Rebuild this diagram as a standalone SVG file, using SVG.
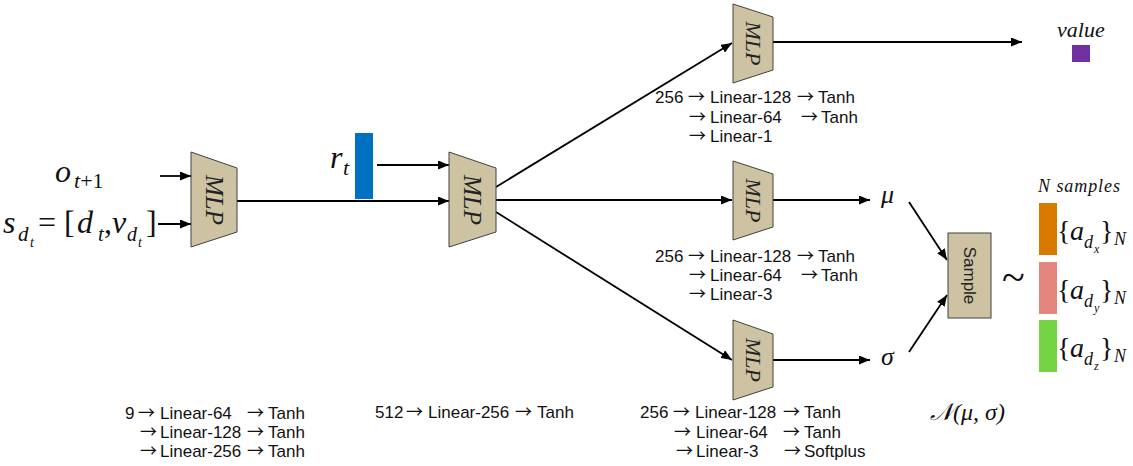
<svg xmlns="http://www.w3.org/2000/svg" width="1133" height="466" viewBox="0 0 1133 466">
<defs>
<marker id="ah" markerUnits="userSpaceOnUse" markerWidth="12" markerHeight="9" refX="11" refY="4.5" orient="auto">
<path d="M0,0 L11,4.5 L0,9 z" fill="#000"/>
</marker>
<style>
.mlp{fill:#CDC3A2;stroke:#404040;stroke-width:1}
.conn{stroke:#000;stroke-width:1.8;fill:none}
.lbl{font-family:"Liberation Sans",Arial,sans-serif;font-size:17px;fill:#111}
.ar{font-family:"Noto Sans CJK SC","DejaVu Sans",sans-serif;font-size:17px}
.m{font-family:"Liberation Serif","Times New Roman",serif;font-style:italic;fill:#111}
.u{font-family:"Liberation Serif","Times New Roman",serif;fill:#111}
.i{font-style:italic}
.n{font-style:normal}
.mt{font-family:"Liberation Serif","Times New Roman",serif;font-style:italic;fill:#222;text-anchor:middle;dominant-baseline:central}
</style>
</defs>
<rect width="1133" height="466" fill="#fff"/>

<g id="connectors">
<line class="conn" x1="160" y1="176" x2="191" y2="176" marker-end="url(#ah)"/>
<line class="conn" x1="158" y1="224" x2="191" y2="224" marker-end="url(#ah)"/>
<line class="conn" x1="237" y1="201" x2="449" y2="201" marker-end="url(#ah)"/>
<line class="conn" x1="377" y1="165" x2="449" y2="165" marker-end="url(#ah)"/>
<line class="conn" x1="496" y1="187" x2="732" y2="43" marker-end="url(#ah)"/>
<line class="conn" x1="496" y1="200" x2="732" y2="200" marker-end="url(#ah)"/>
<line class="conn" x1="496" y1="212" x2="732" y2="360" marker-end="url(#ah)"/>
<line class="conn" x1="773" y1="42" x2="1022" y2="42" marker-end="url(#ah)"/>
<line class="conn" x1="773" y1="200" x2="870" y2="200" marker-end="url(#ah)"/>
<line class="conn" x1="773" y1="360" x2="870" y2="360" marker-end="url(#ah)"/>
<line class="conn" x1="909" y1="202" x2="947" y2="260" marker-end="url(#ah)"/>
<line class="conn" x1="909" y1="352" x2="947" y2="295" marker-end="url(#ah)"/>
</g>

<g id="inputs">
<text class="m" font-size="32" y="182"><tspan x="55">o</tspan><tspan x="74" y="188" font-size="22">t</tspan><tspan class="n" y="188" font-size="22">+1</tspan></text>
<text class="m" font-size="32" y="233"><tspan x="3">s</tspan><tspan x="18" y="241" font-size="21">d</tspan><tspan x="30" y="247" font-size="14">t</tspan><tspan class="n" x="38" y="233">=</tspan><tspan class="n" x="64" y="233">[</tspan><tspan x="77" y="233">d</tspan><tspan x="98" y="241" font-size="21">t</tspan><tspan class="n" x="104" y="233">,</tspan><tspan x="112" y="233">v</tspan><tspan x="127" y="241" font-size="20">d</tspan><tspan x="138" y="247" font-size="14">t</tspan><tspan class="n" x="146" y="233">]</tspan></text>
</g>

<g id="mlp1">
<polygon class="mlp" points="191,152 237,168 237,232 191,247"/>
<text class="mt" font-size="25" transform="translate(214,200) rotate(90)">MLP</text>
</g>

<g id="reward">
<rect x="355" y="133" width="18" height="66" fill="#0070C0"/>
<text class="m" font-size="32" y="168"><tspan x="330">r</tspan><tspan x="343" y="175" font-size="22">t</tspan></text>
</g>

<g id="mlp2">
<polygon class="mlp" points="449,152 496,168 496,232 449,247"/>
<text class="mt" font-size="25" transform="translate(472,200) rotate(90)">MLP</text>
</g>

<g id="mlp-value">
<polygon class="mlp" points="733,4 773,17 773,70 733,83"/>
<text class="mt" font-size="22" transform="translate(753,43.5) rotate(90)">MLP</text>
</g>

<g id="mlp-mu">
<polygon class="mlp" points="733,161 773,174 773,227 733,240"/>
<text class="mt" font-size="22" transform="translate(753,200.5) rotate(90)">MLP</text>
</g>

<g id="mlp-sigma">
<polygon class="mlp" points="733,320 773,334 773,387 733,400"/>
<text class="mt" font-size="22" transform="translate(753,360) rotate(90)">MLP</text>
</g>

<g id="label-value-mlp" class="lbl">
<text y="103"><tspan x="655">256</tspan><tspan class="ar" x="688">→</tspan><tspan x="710">Linear-128</tspan><tspan class="ar" x="797">→</tspan><tspan x="818">Tanh</tspan></text>
<text y="123"><tspan class="ar" x="689">→</tspan><tspan x="710">Linear-64</tspan><tspan class="ar" x="801">→</tspan><tspan x="821">Tanh</tspan></text>
<text y="142"><tspan class="ar" x="689">→</tspan><tspan x="710">Linear-1</tspan></text>
</g>

<g id="label-mu-mlp" class="lbl">
<text y="262"><tspan x="655">256</tspan><tspan class="ar" x="688">→</tspan><tspan x="710">Linear-128</tspan><tspan class="ar" x="797">→</tspan><tspan x="818">Tanh</tspan></text>
<text y="281"><tspan class="ar" x="689">→</tspan><tspan x="710">Linear-64</tspan><tspan class="ar" x="801">→</tspan><tspan x="821">Tanh</tspan></text>
<text y="300"><tspan class="ar" x="689">→</tspan><tspan x="710">Linear-3</tspan></text>
</g>

<g id="label-sigma-mlp" class="lbl">
<text y="418"><tspan x="640">256</tspan><tspan class="ar" x="673">→</tspan><tspan x="695">Linear-128</tspan><tspan class="ar" x="783">→</tspan><tspan x="804">Tanh</tspan></text>
<text y="438"><tspan class="ar" x="674">→</tspan><tspan x="696">Linear-64</tspan><tspan class="ar" x="783">→</tspan><tspan x="804">Tanh</tspan></text>
<text y="457"><tspan class="ar" x="676">→</tspan><tspan x="696">Linear-3</tspan><tspan class="ar" x="784">→</tspan><tspan x="804">Softplus</tspan></text>
</g>

<g id="label-mlp1" class="lbl">
<text y="419"><tspan x="125">9</tspan><tspan class="ar" x="138">→</tspan><tspan x="160">Linear-64</tspan><tspan class="ar" x="247">→</tspan><tspan x="268">Tanh</tspan></text>
<text y="438"><tspan class="ar" x="140">→</tspan><tspan x="160">Linear-128</tspan><tspan class="ar" x="247">→</tspan><tspan x="268">Tanh</tspan></text>
<text y="457"><tspan class="ar" x="140">→</tspan><tspan x="160">Linear-256</tspan><tspan class="ar" x="247">→</tspan><tspan x="268">Tanh</tspan></text>
</g>

<g id="label-mlp2" class="lbl">
<text y="418"><tspan x="375">512</tspan><tspan class="ar" x="406">→</tspan><tspan x="428">Linear-256</tspan><tspan class="ar" x="515">→</tspan><tspan x="537">Tanh</tspan></text>
</g>

<g id="mu">
<text class="m" x="881" y="203" font-size="26">μ</text>
</g>
<g id="sigma">
<text class="m" x="881" y="365" font-size="26">σ</text>
</g>

<g id="sample">
<rect class="mlp" x="948" y="233" width="43" height="85"/>
<text transform="translate(969.5,275.5) rotate(90)" font-family="Liberation Sans,Arial,sans-serif" font-size="17" fill="#222" text-anchor="middle" dominant-baseline="central">Sample</text>
</g>

<g id="distribution">
<text class="u" x="1002" y="291" font-size="42">~</text>
<text class="m" x="930" y="420" font-size="24">𝒩(μ, σ)</text>
</g>

<g id="value">
<text class="m" x="1057" y="37" font-size="22">value</text>
<rect x="1072" y="45" width="18" height="17" fill="#7030A0"/>
</g>

<g id="samples">
<text class="m" x="1038" y="192" font-size="18" textLength="82">N samples</text>
<rect x="1039" y="203" width="18" height="52" fill="#D97A00"/>
<rect x="1039" y="262" width="18" height="52" fill="#E4857E"/>
<rect x="1039" y="320" width="18" height="52" fill="#74D444"/>
<text class="u" font-size="28" y="240"><tspan x="1057">{</tspan><tspan class="i" x="1070">a</tspan><tspan class="i" x="1084" y="248" font-size="18">d</tspan><tspan class="i" x="1094" y="253" font-size="12">x</tspan><tspan x="1100" y="240">}</tspan><tspan class="i" x="1114" y="245" font-size="18">N</tspan></text>
<text class="u" font-size="28" y="299"><tspan x="1057">{</tspan><tspan class="i" x="1070">a</tspan><tspan class="i" x="1084" y="307" font-size="18">d</tspan><tspan class="i" x="1094" y="312" font-size="12">y</tspan><tspan x="1100" y="299">}</tspan><tspan class="i" x="1114" y="304" font-size="18">N</tspan></text>
<text class="u" font-size="28" y="357"><tspan x="1057">{</tspan><tspan class="i" x="1070">a</tspan><tspan class="i" x="1084" y="365" font-size="18">d</tspan><tspan class="i" x="1094" y="370" font-size="12">z</tspan><tspan x="1100" y="357">}</tspan><tspan class="i" x="1114" y="362" font-size="18">N</tspan></text>
</g>
</svg>
